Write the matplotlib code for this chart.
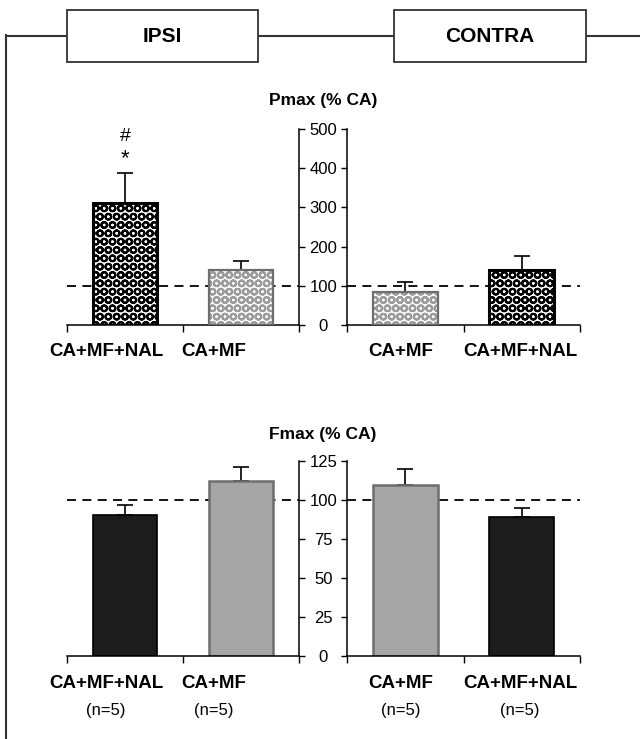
import matplotlib

matplotlib.use("Agg")
import matplotlib.pyplot as plt
from matplotlib.lines import Line2D
from matplotlib.patches import Rectangle
import numpy as np

plt.rcParams["font.family"] = ["Liberation Sans", "DejaVu Sans"]
plt.rcParams["hatch.linewidth"] = 1.5

# groups, left to right
ipsi_labels = ["CA+MF+NAL", "CA+MF"]
contra_labels = ["CA+MF", "CA+MF+NAL"]

# Pmax, % of CA (mean, SEM)
pmax_ipsi = [310, 140]
pmax_ipsi_err = [78, 22]
pmax_contra = [84, 140]
pmax_contra_err = [26, 35]

# Fmax, % of CA (mean, SEM)
fmax_ipsi = [90.4, 112.4]
fmax_ipsi_err = [6.7, 8.8]
fmax_contra = [109.6, 88.8]
fmax_contra_err = [10.1, 5.9]

n_ipsi = [5, 5]
n_contra = [5, 5]

W, H = 640, 739
DARK = "#1c1c1c"
GREY = "#a6a6a6"
GREY_EDGE = "#6e6e6e"


def fx(px):
    return px / W


def fy(py):
    return 1 - py / H


def make_axes(fig, x0, x1, y0, y1):
    return fig.add_axes([fx(x0), fy(y1), fx(x1) - fx(x0), fy(y0) - fy(y1)])


def style_axes(ax, ymax, yticks, side):
    ax.set_xlim(-0.5, 1.5)
    ax.set_ylim(0, ymax)
    ax.set_xticks([-0.5, 0.5, 1.5])
    ax.set_xticklabels([])
    ax.tick_params(axis="x", direction="out", length=5, width=1)
    ax.spines["top"].set_visible(False)
    ax.spines["bottom"].set_linewidth(1.1)
    ax.set_yticks(yticks)
    if side == "right":
        ax.spines["left"].set_visible(False)
        ax.spines["right"].set_linewidth(1.1)
        ax.yaxis.tick_right()
        ax.set_yticklabels([])
        ax.tick_params(axis="y", direction="out", length=4, width=1)
    else:
        ax.spines["right"].set_visible(False)
        ax.spines["left"].set_linewidth(1.1)
        ax.tick_params(axis="y", direction="out", length=4, width=1,
                       labelsize=12, pad=13)
        ax.set_yticklabels([str(t) for t in yticks])
        for lbl in ax.get_yticklabels():
            lbl.set_horizontalalignment("center")
    ax.axhline(100, color="black", lw=1.3, ls=(0, (5, 3.5)), zorder=1)
    ax.patch.set_alpha(0)


def hatched_bar(ax, x, h, kind):
    if kind == "dark":
        ax.bar(x, h, width=0.56, color="white", edgecolor="black", hatch="OO",
               lw=0, zorder=2)
        ax.bar(x, h, width=0.56, fill=False, edgecolor="black", lw=2.2, zorder=3)
    else:
        ax.bar(x, h, width=0.56, color="white", edgecolor="#9c9c9c", hatch="OO",
               lw=0, zorder=2)
        ax.bar(x, h, width=0.56, fill=False, edgecolor=GREY_EDGE, lw=1.6, zorder=3)


def solid_bar(ax, x, h, kind):
    if kind == "dark":
        ax.bar(x, h, width=0.56, color=DARK, edgecolor="black", lw=1.2, zorder=2)
    else:
        ax.bar(x, h, width=0.56, color=GREY, edgecolor=GREY_EDGE, lw=1.8, zorder=2)


def err_up(ax, vals, errs):
    x = np.arange(len(vals))
    ax.errorbar(x, vals, yerr=[np.zeros(len(errs)), errs], fmt="none",
                ecolor="black", elinewidth=1.2, capsize=5.5, capthick=1.2, zorder=1.5)


fig = plt.figure(figsize=(W / 100, H / 100), dpi=100)

# Pmax
ax1 = make_axes(fig, 67, 299, 129, 325)
ax2 = make_axes(fig, 347, 580, 129, 325)
style_axes(ax1, 500, [0, 100, 200, 300, 400, 500], "right")
style_axes(ax2, 500, [0, 100, 200, 300, 400, 500], "left")
err_up(ax1, pmax_ipsi, pmax_ipsi_err)
err_up(ax2, pmax_contra, pmax_contra_err)
hatched_bar(ax1, 0, pmax_ipsi[0], "dark")
hatched_bar(ax1, 1, pmax_ipsi[1], "light")
hatched_bar(ax2, 0, pmax_contra[0], "light")
hatched_bar(ax2, 1, pmax_contra[1], "dark")
ax1.text(0, 482, "#", ha="center", va="center", fontsize=14)
ax1.text(0, 423, "*", ha="center", va="center", fontsize=16)

# Fmax
ax3 = make_axes(fig, 67, 299, 461, 656)
ax4 = make_axes(fig, 347, 580, 461, 656)
style_axes(ax3, 125, [0, 25, 50, 75, 100, 125], "right")
style_axes(ax4, 125, [0, 25, 50, 75, 100, 125], "left")
err_up(ax3, fmax_ipsi, fmax_ipsi_err)
err_up(ax4, fmax_contra, fmax_contra_err)
solid_bar(ax3, 0, fmax_ipsi[0], "dark")
solid_bar(ax3, 1, fmax_ipsi[1], "light")
solid_bar(ax4, 0, fmax_contra[0], "light")
solid_bar(ax4, 1, fmax_contra[1], "dark")

fig.text(fx(323), fy(101), "Pmax (% CA)", ha="center", va="center",
         fontsize=12.5, fontweight="bold")
fig.text(fx(323), fy(434), "Fmax (% CA)", ha="center", va="center",
         fontsize=12.5, fontweight="bold")

# group labels under the bars
label_x = [106, 214, 401, 520]
labels = ipsi_labels + contra_labels
counts = n_ipsi + n_contra
for x, lab in zip(label_x, labels):
    fig.text(fx(x), fy(352), lab, ha="center", va="center",
             fontsize=13.5, fontweight="bold")
    fig.text(fx(x), fy(683), lab, ha="center", va="center",
             fontsize=13.5, fontweight="bold")
for x, n in zip(label_x, counts):
    fig.text(fx(x), fy(711), f"(n={n})", ha="center", va="center", fontsize=12)

# side brackets and headers
frame_kw = dict(color="#333333", lw=1.5, transform=fig.transFigure, zorder=0)
fig.add_artist(Line2D([fx(6), fx(640)], [fy(36), fy(36)], **frame_kw))
fig.add_artist(Line2D([fx(6), fx(6)], [fy(35.3), fy(739)], **frame_kw))
for x0, x1, name in [(67, 258, "IPSI"), (394, 586, "CONTRA")]:
    fig.add_artist(Rectangle((fx(x0), fy(62)), fx(x1) - fx(x0), fy(10) - fy(62),
                             transform=fig.transFigure, facecolor="white",
                             edgecolor="#333333", lw=1.3, zorder=1))
    fig.text(fx((x0 + x1) / 2), fy(36), name, ha="center", va="center",
             fontsize=15, fontweight="bold", zorder=2)

fig.savefig("out.png", dpi=100)
plt.close(fig)
